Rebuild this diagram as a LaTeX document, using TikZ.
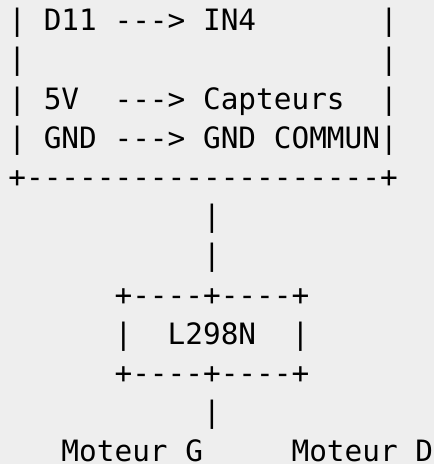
\documentclass[tikz,border=0pt]{standalone}
\usepackage{fontspec}
\setmonofont{DejaVu Sans Mono}
\usepackage{tikz}
\definecolor{bggrey}{HTML}{EEEEEE}

\begin{document}
\begin{tikzpicture}[x=17.7pt,y=39.2pt,
  ascii/.style={font=\ttfamily\fontsize{29.4}{35}\selectfont,inner sep=0pt,anchor=base west}]

\useasboundingbox (-0.463,-0.217) rectangle (24.06,-12.054);
\fill[bggrey] (-0.463,-0.217) rectangle (24.06,-12.054);

\node[ascii] (d11) at (0,-1) {|~D11~--->~IN4~~~~~~~|};
\node[ascii] (blank) at (0,-2) {|~~~~~~~~~~~~~~~~~~~~|};
\node[ascii] (cinq) at (0,-3) {|~5V~~--->~Capteurs~~|};
\node[ascii] (gnd) at (0,-4) {|~GND~--->~GND~COMMUN|};
\node[ascii] (bottom) at (0,-5) {+--------------------+};

\node[ascii] (wire1) at (11,-6) {|};
\node[ascii] (wire2) at (11,-7) {|};

\node[ascii] (top) at (6,-8) {+----+----+};
\node[ascii] (l298) at (6,-9) {|~~L298N~~|};
\node[ascii] (base) at (6,-10) {+----+----+};

\node[ascii] (wire3) at (11,-11) {|};
\node[ascii] (motors) at (3,-12) {Moteur~G~~~~~Moteur~D};

\end{tikzpicture}
\end{document}
